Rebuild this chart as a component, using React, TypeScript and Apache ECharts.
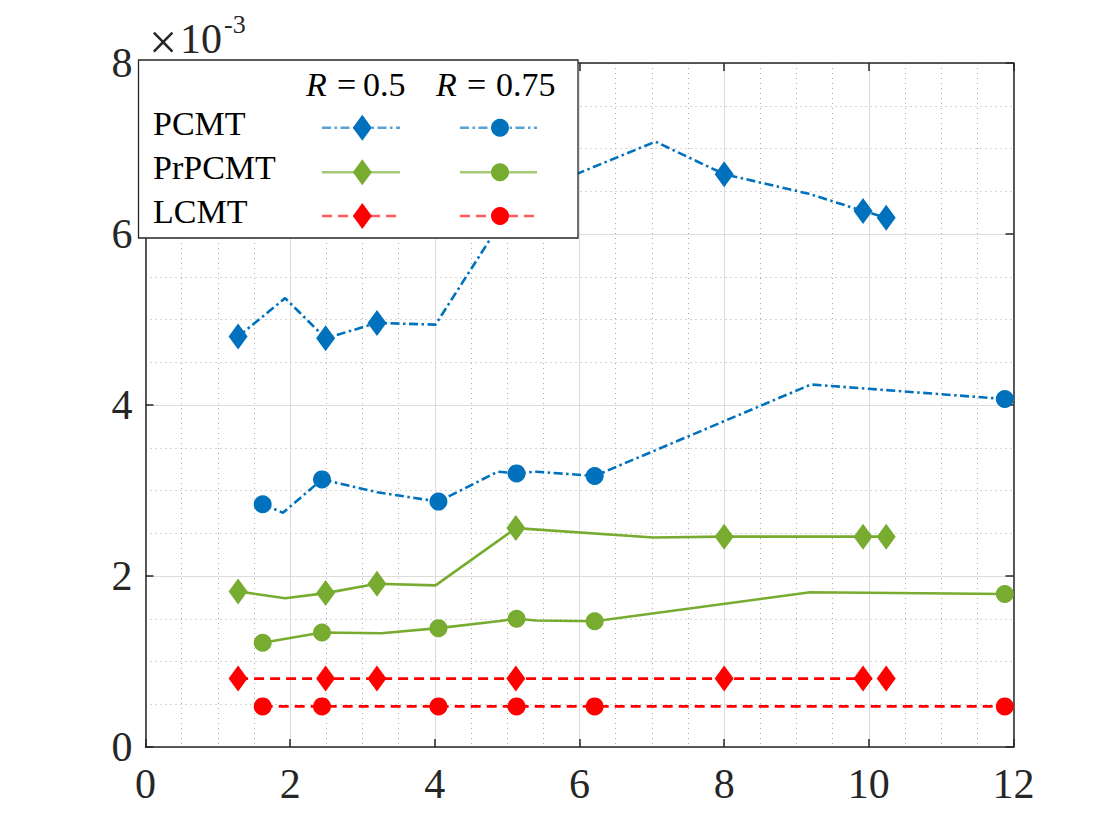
import React, { useEffect, useRef } from "react";
import * as echarts from "echarts";

// ---- axis ranges / ticks (y values are in units of 10^-3) ----
const X_MIN = 0;
const X_MAX = 12;
const X_STEP = 2;
const Y_MIN = 0;
const Y_MAX = 8;
const Y_STEP = 2;
const Y_EXPONENT = "-3";

// ---- series data ----
// PCMT, R = 0.5 (diamonds)
const pcmt05X = [1.28, 1.93, 2.49, 3.2, 4.01, 5.12, 7.05, 8.0, 9.17, 9.92, 10.24];
const pcmt05Y = [4.8, 5.25, 4.78, 4.96, 4.94, 6.41, 7.08, 6.7, 6.47, 6.27, 6.19];
const pcmt05M = [1, 0, 1, 1, 0, 1, 0, 1, 0, 1, 1];

// PCMT, R = 0.75 (circles)
const pcmt075X = [1.62, 1.9, 2.44, 3.2, 4.05, 4.87, 5.13, 5.4, 6.21, 9.2, 11.88];
const pcmt075Y = [2.84, 2.74, 3.13, 2.98, 2.87, 3.22, 3.2, 3.22, 3.17, 4.24, 4.07];
const pcmt075M = [1, 0, 1, 0, 1, 0, 1, 0, 1, 0, 1];

// PrPCMT, R = 0.5 (diamonds)
const prpcmt05X = [1.28, 1.93, 2.49, 3.2, 4.01, 5.12, 7.02, 8.0, 9.92, 10.24];
const prpcmt05Y = [1.82, 1.74, 1.8, 1.91, 1.89, 2.56, 2.45, 2.46, 2.46, 2.46];
const prpcmt05M = [1, 0, 1, 1, 0, 1, 0, 1, 1, 1];

// PrPCMT, R = 0.75 (circles)
const prpcmt075X = [1.62, 2.44, 3.26, 4.05, 4.87, 5.13, 5.4, 6.21, 9.19, 11.88];
const prpcmt075Y = [1.22, 1.34, 1.33, 1.39, 1.47, 1.5, 1.48, 1.47, 1.81, 1.79];
const prpcmt075M = [1, 1, 0, 1, 0, 1, 0, 1, 0, 1];

// LCMT, R = 0.5 (diamonds)
const lcmt05X = [1.28, 2.49, 3.2, 5.12, 8.0, 9.92, 10.24];
const lcmt05Y = [0.8, 0.8, 0.8, 0.8, 0.8, 0.8, 0.8];

// LCMT, R = 0.75 (circles)
const lcmt075X = [1.62, 2.44, 4.05, 5.13, 6.21, 11.88];
const lcmt075Y = [0.475, 0.475, 0.475, 0.475, 0.475, 0.475];

const methods = ["PCMT", "PrPCMT", "LCMT"];
const radii = ["0.5", "0.75"];

// ---- styles ----
const FONT = "Liberation Serif";
const AXIS_COLOR = "#262626";
const BLUE = "#0072BD";
const GREEN = "#77AC30";
const RED = "#FF0000";
const BLUE_L = "rgba(0,114,189,0.65)";
const GREEN_L = "rgba(119,172,48,0.65)";
const RED_L = "rgba(255,0,0,0.65)";
const DASHDOT = [9, 3.5, 2.5, 3.5];
const DASHED = [10, 6];
const DIAMOND_SIZE = [19, 26];
const CIRCLE_SIZE = 18;

function mkSeries(
  name: string,
  xs: number[],
  ys: number[],
  marks: number[] | null,
  symbol: string,
  size: any,
  color: string,
  type: any
) {
  return {
    type: "line",
    name,
    xAxisIndex: 0,
    yAxisIndex: 0,
    data: xs.map((x, i) => ({
      value: [x, ys[i]],
      symbol: !marks || marks[i] ? symbol : "none",
    })),
    symbol,
    symbolSize: size,
    showSymbol: true,
    clip: false,
    lineStyle: { color, width: 2.6, type },
    itemStyle: { color, borderWidth: 0 },
    emphasis: { disabled: true },
    z: 3,
  };
}

function axisCommon(pos: string, main: boolean, isX: boolean) {
  return {
    type: "value",
    position: pos,
    min: isX ? X_MIN : Y_MIN,
    max: isX ? X_MAX : Y_MAX,
    interval: isX ? X_STEP : Y_STEP,
    axisLine: { show: true, onZero: false, lineStyle: { color: AXIS_COLOR, width: 1.5 } },
    axisTick: { show: true, inside: true, length: 8, lineStyle: { color: AXIS_COLOR, width: 1.5 } },
    axisLabel: main
      ? {
          show: true,
          margin: isX ? 16 : 13,
          fontSize: 42,
          fontFamily: FONT,
          color: AXIS_COLOR,
        }
      : { show: false },
    splitLine: main
      ? { show: true, lineStyle: { color: "#dcdcdc", width: 1 } }
      : { show: false },
    minorTick: { show: false, splitNumber: 4 },
    minorSplitLine: main
      ? { show: true, lineStyle: { color: "#ababab", width: 1, type: [1, 4] } }
      : { show: false },
  };
}

function diamond(cx: number, cy: number, color: string) {
  const w = DIAMOND_SIZE[0] / 2;
  const h = DIAMOND_SIZE[1] / 2;
  return {
    type: "polygon",
    shape: { points: [[cx, cy - h], [cx + w, cy], [cx, cy + h], [cx - w, cy]] },
    style: { fill: color },
    z: 101,
  };
}

function circle(cx: number, cy: number, color: string) {
  return {
    type: "circle",
    shape: { cx, cy, r: CIRCLE_SIZE / 2 },
    style: { fill: color },
    z: 101,
  };
}

function legendLine(x1: number, x2: number, y: number, color: string, dash: any) {
  return {
    type: "line",
    shape: { x1, y1: y, x2, y2: y },
    style: { stroke: color, lineWidth: 2.5, lineDash: dash },
    z: 100,
  };
}

function buildLegend() {
  const els: any[] = [];
  els.push({
    type: "rect",
    shape: { x: 138.5, y: 60, width: 439.5, height: 178 },
    style: { fill: "#ffffff", stroke: AXIS_COLOR, lineWidth: 1.3 },
    z: 99,
  });
  const txt = (text: string, x: number, y: number, size: number, italic = false, color = "#000000") => ({
    type: "text",
    x,
    y,
    style: {
      text,
      fontSize: size,
      fontFamily: FONT,
      fontStyle: italic ? "italic" : "normal",
      fill: color,
      align: "left",
      verticalAlign: "middle",
    },
    z: 102,
  });
  // column headers
  const headerY = 84;
  const headers = [
    { rx: 306, ex: 337, vx: 363, v: radii[0] },
    { rx: 436, ex: 467, vx: 496, v: radii[1] },
  ];
  headers.forEach((h) => {
    els.push(txt("R", h.rx, headerY, 34, true));
    els.push(txt("=", h.ex, headerY, 34));
    els.push(txt(h.v, h.vx, headerY, 34));
  });
  const rowsY = [127.7, 172.3, 216];
  const cols = [
    [BLUE, BLUE_L, DASHDOT],
    [GREEN, GREEN_L, null],
    [RED, RED_L, DASHED],
  ];
  methods.forEach((m, i) => {
    const y = rowsY[i];
    els.push(txt(m, 153, y - 4.5, 34));
    const [c, cl, dash] = cols[i] as any;
    els.push(legendLine(322, 400, y, cl, dash));
    els.push(diamond(362.3, y, c));
    els.push(legendLine(460, 537, y, cl, dash));
    els.push(circle(500, y, c));
  });
  // exponent label (×10^-3)
  els.push(txt("×", 149, 42, 50, false, AXIS_COLOR));
  els.push(txt("10", 180, 39, 42, false, AXIS_COLOR));
  els.push(txt(Y_EXPONENT, 224, 24, 26, false, AXIS_COLOR));
  return els;
}

export default function App() {
  const ref = useRef<HTMLDivElement>(null);
  useEffect(() => {
    if (!ref.current) return;
    const chart = echarts.init(ref.current, undefined, { renderer: "svg" });
    const option: any = {
      animation: false,
      backgroundColor: "#ffffff",
      grid: { left: 145.5, top: 63, width: 868, height: 684, containLabel: false },
      xAxis: [axisCommon("bottom", true, true), axisCommon("top", false, true)],
      yAxis: [axisCommon("left", true, false), axisCommon("right", false, false)],
      series: [
        mkSeries("PCMT R=0.5", pcmt05X, pcmt05Y, pcmt05M, "diamond", DIAMOND_SIZE, BLUE, DASHDOT),
        mkSeries("PCMT R=0.75", pcmt075X, pcmt075Y, pcmt075M, "circle", CIRCLE_SIZE, BLUE, DASHDOT),
        mkSeries("PrPCMT R=0.5", prpcmt05X, prpcmt05Y, prpcmt05M, "diamond", DIAMOND_SIZE, GREEN, "solid"),
        mkSeries("PrPCMT R=0.75", prpcmt075X, prpcmt075Y, prpcmt075M, "circle", CIRCLE_SIZE, GREEN, "solid"),
        mkSeries("LCMT R=0.5", lcmt05X, lcmt05Y, null, "diamond", DIAMOND_SIZE, RED, DASHED),
        mkSeries("LCMT R=0.75", lcmt075X, lcmt075Y, null, "circle", CIRCLE_SIZE, RED, DASHED),
      ],
      graphic: buildLegend(),
    };
    chart.setOption(option);
    return () => chart.dispose();
  }, []);
  return (
    <div
      ref={ref}
      style={{ position: "absolute", left: 0, top: 0, width: 1120, height: 840, background: "#fff" }}
    />
  );
}
